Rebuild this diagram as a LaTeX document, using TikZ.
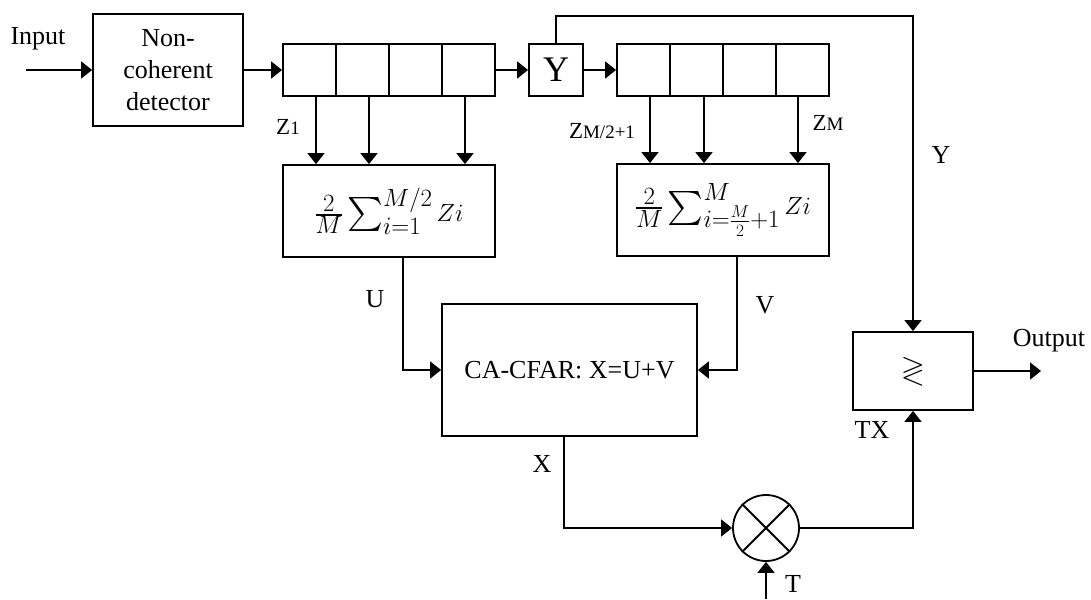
\documentclass[tikz,border=0pt]{standalone}
\usepackage{amsmath,amssymb}
\usepackage{fontspec}
\setmainfont{Liberation Serif}
\usetikzlibrary{arrows.meta}

\tikzset{
  blk/.style={draw, inner sep=0pt, align=center, font=\fontsize{26}{32}\selectfont},
  cell/.style={draw, inner sep=0pt, minimum width=53pt, minimum height=52pt},
  lbl/.style={anchor=base, inner sep=0pt, font=\fontsize{26}{30}\selectfont},
  zlbl/.style={anchor=base, inner sep=0pt, font=\fontsize{23}{26}\selectfont},
}
\newcommand{\zidx}[1]{Z{\fontsize{19}{20}\selectfont #1}}

\begin{document}
\begin{tikzpicture}[x=1pt,y=-1pt,line width=1.8pt,>={Triangle[length=11pt,width=17pt]}]
\useasboundingbox (0,0) rectangle (1091,599);
% 检波器与输入
\coordinate (in) at (26,70);
\node[blk, minimum width=150pt, minimum height=112pt] (det) at (168,70) {Non-\\coherent\\detector};
\node[lbl] (linput) at (38,45) {Input};
% 两段参考单元（各4格）
\foreach \i in {1,...,4}{
  \node[cell] (ra\i) at ({283+53*(\i-0.5)},70) {};
  \node[cell] (rb\i) at ({617+53*(\i-0.5)},70) {};
}
% 检测单元 Y
\node[blk, minimum width=54pt, minimum height=52pt, font=\fontsize{36}{40}\selectfont] (ybox) at (556,70) {Y};
% 前后半窗求和
\node[blk, minimum width=212pt, minimum height=92pt, font=\fontsize{34}{38}\selectfont] (suma) at (389,211)
  {$\tfrac{2}{M}\sum_{i=1}^{M/2} Zi$};
\node[blk, minimum width=212pt, minimum height=92pt, font=\fontsize{34}{38}\selectfont] (sumb) at (723,210)
  {$\tfrac{2}{M}\sum_{i=\frac{M}{2}+1}^{M} Zi$};
% CA-CFAR、比较器、乘法器
\node[blk, minimum width=255pt, minimum height=132pt] (cfar) at (569.5,370) {CA-CFAR: X=U+V};
\node[blk, minimum width=120pt, minimum height=78pt, font=\fontsize{31}{34}\selectfont] (cmp) at (913,371) {$\gtrless$};
\node[draw, circle, minimum size=66pt, inner sep=0pt] (mult) at (766,528) {};
\draw (mult.north west) -- (mult.south east) (mult.north east) -- (mult.south west);
\coordinate (ytop) at (913,16);
\coordinate (out) at (1041,371);
\coordinate (tin) at (766,599);
% 连线
\draw[->] (in) -- (det.west);
\draw[->] (det.east) -- (ra1.west);
\draw[->] (ra4.east) -- (ybox.west);
\draw[->] (ybox.east) -- (rb1.west);
\foreach \i/\s in {1/6.5,2/6.5,4/-3.5}
  \draw[->] ([xshift=\s pt]ra\i.south) -- ([xshift=\s pt]ra\i.south |- suma.north);
\foreach \i/\s in {1/6.5,2/7.5,4/-4.5}
  \draw[->] ([xshift=\s pt]rb\i.south) -- ([xshift=\s pt]rb\i.south |- sumb.north);
\draw[->] ([xshift=14pt]suma.south) |- (cfar.west);
\draw[->] ([xshift=14pt]sumb.south) |- (cfar.east);
\draw[->] (ybox.north) |- (ytop) -- (cmp.north);
\draw[->] ([xshift=-5.5pt]cfar.south) |- (mult.west);
\draw[->] (mult.east) -| (cmp.south);
\draw[->] (tin) -- (mult.south);
\draw[->] (cmp.east) -- (out);
% 信号标注
\node[zlbl] (lz1) at (288,134) {\zidx{1}};
\node[zlbl] (lzh) at (602,139) {\zidx{M/2+1}};
\node[zlbl] (lzm) at (828,130) {\zidx{M}};
\node[lbl] (ly) at (941,163) {Y};
\node[lbl] (lu) at (375,307) {U};
\node[lbl] (lv) at (765,313) {V};
\node[lbl] (lx) at (542,472) {X};
\node[lbl] (ltx) at (872,438) {TX};
\node[lbl] (lt) at (793,592) {T};
\node[lbl] (lout) at (1049,346) {Output};
\end{tikzpicture}
\end{document}
